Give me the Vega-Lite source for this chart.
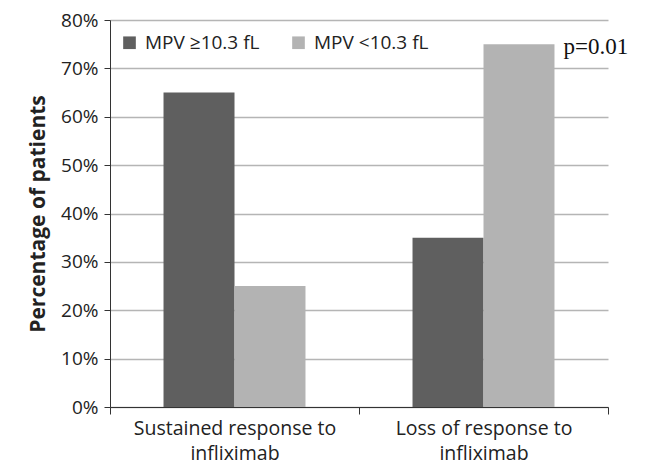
{
  "$schema": "https://vega.github.io/schema/vega-lite/v6.json",
  "width": 498,
  "height": 387,
  "autosize": {"type": "none"},
  "padding": {"left": 110, "top": 20, "right": 41, "bottom": 60},
  "background": "white",
  "config": {"view": {"stroke": null}, "font": "Open Sans"},
  "datasets": {
    "bars": [
      {"outcome": "Sustained response to infliximab", "group": "MPV ≥10.3 fL", "pct": 0.65},
      {"outcome": "Sustained response to infliximab", "group": "MPV <10.3 fL", "pct": 0.25},
      {"outcome": "Loss of response to infliximab", "group": "MPV ≥10.3 fL", "pct": 0.35},
      {"outcome": "Loss of response to infliximab", "group": "MPV <10.3 fL", "pct": 0.75}
    ],
    "note": [
      {"outcome": "Loss of response to infliximab", "pct": 0.75, "label": "p=0.01"}
    ]
  },
  "encoding": {
    "x": {
      "field": "outcome", "type": "nominal",
      "sort": ["Sustained response to infliximab", "Loss of response to infliximab"],
      "scale": {"domain": ["Sustained response to infliximab", "Loss of response to infliximab"], "paddingInner": 0, "paddingOuter": 0},
      "axis": {
        "title": null, "labelAngle": 0, "grid": false, "labelLimit": 400,
        "tickBand": "extent", "tickSize": 7, "tickColor": "#333", "domainColor": "#333",
        "labelFontSize": 19.5, "labelColor": "#222", "labelPadding": 5, "labelLineHeight": 25,
        "labelFont": "Open Sans",
        "labelExpr": "datum.value == 'Sustained response to infliximab' ? ['Sustained response to', 'infliximab'] : (datum.value == 'Loss of response to infliximab' ? ['Loss of response to', 'infliximab'] : '')"
      }
    },
    "y": {
      "field": "pct", "type": "quantitative",
      "scale": {"domain": [0, 0.8]},
      "axis": {
        "title": "Percentage of patients", "titleFontSize": 21, "titleFontWeight": "bold",
        "titleColor": "#222", "titlePadding": 12, "titleFont": "Open Sans",
        "format": ".0%", "values": [0, 0.1, 0.2, 0.3, 0.4, 0.5, 0.6, 0.7, 0.8],
        "labelFontSize": 19, "labelColor": "#222", "labelPadding": 6,
        "tickSize": 6, "tickColor": "#333", "domainColor": "#333",
        "gridColor": "#b5b5b5", "gridWidth": 1.5
      }
    }
  },
  "layer": [
    {
      "data": {"name": "bars"},
      "mark": {"type": "bar"},
      "encoding": {
        "xOffset": {
          "field": "group", "type": "nominal",
          "sort": ["MPV ≥10.3 fL", "MPV <10.3 fL"],
          "scale": {"paddingInner": 0, "paddingOuter": 0.754}
        },
        "color": {
          "field": "group", "type": "nominal",
          "sort": ["MPV ≥10.3 fL", "MPV <10.3 fL"],
          "scale": {"domain": ["MPV ≥10.3 fL", "MPV <10.3 fL"], "range": ["#5f5f5f", "#b3b3b3"]},
          "legend": {
            "title": null, "orient": "none", "legendX": 10, "legendY": 13,
            "direction": "horizontal", "columns": 2, "columnPadding": 29,
            "symbolType": "square", "symbolSize": 160, "symbolStrokeWidth": 0,
            "labelFontSize": 19, "labelColor": "#222", "labelOffset": 6
          }
        }
      }
    },
    {
      "data": {"name": "note"},
      "mark": {"type": "text", "font": "Liberation Serif", "fontSize": 23, "align": "left", "baseline": "middle", "dx": 80, "dy": 3, "color": "#111"},
      "encoding": {
        "text": {"field": "label"}
      }
    }
  ]
}
